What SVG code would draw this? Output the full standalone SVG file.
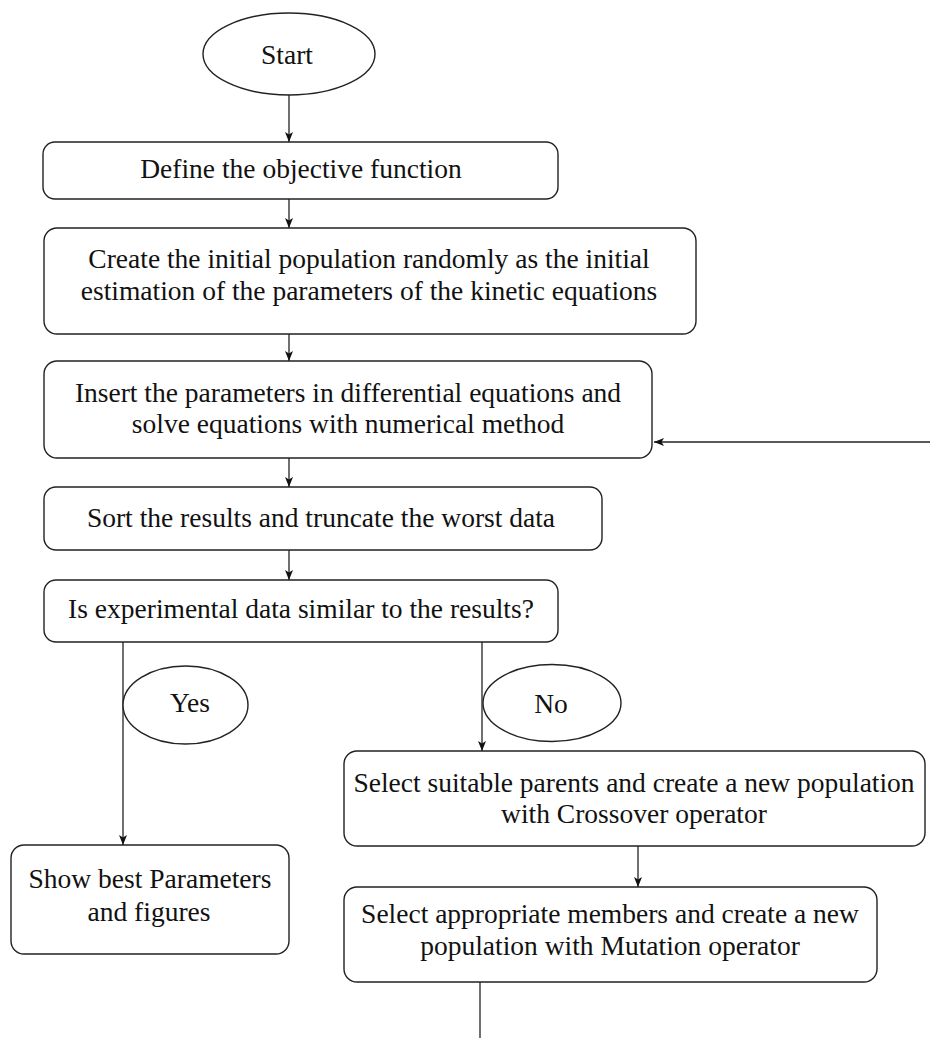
<svg xmlns="http://www.w3.org/2000/svg" width="930" height="1038" viewBox="0 0 930 1038">
<style>
.n{fill:#fff;stroke:#222;stroke-width:1.4}
.t{font-family:"Liberation Serif","Times New Roman",serif;font-size:27.5px;fill:#111;text-anchor:middle}
.c{fill:none;stroke:#222;stroke-width:1.3}
</style>
<defs>
<marker id="ah" viewBox="0 0 10 8" refX="10" refY="4" markerWidth="10" markerHeight="8" markerUnits="userSpaceOnUse" orient="auto">
<path d="M0,0 L10,4 L0,8 L2.5,4 Z" fill="#111"/>
</marker>
</defs>
<rect width="930" height="1038" fill="#fff"/>
<g id="connectors">
<line class="c" x1="289" y1="95" x2="289" y2="142" marker-end="url(#ah)"/>
<line class="c" x1="289" y1="199" x2="289" y2="228" marker-end="url(#ah)"/>
<line class="c" x1="289" y1="334" x2="289" y2="361" marker-end="url(#ah)"/>
<line class="c" x1="289" y1="458" x2="289" y2="487" marker-end="url(#ah)"/>
<line class="c" x1="289" y1="550" x2="289" y2="580" marker-end="url(#ah)"/>
<line class="c" x1="930" y1="442" x2="654" y2="442" marker-end="url(#ah)"/>
<line class="c" x1="123" y1="642" x2="123" y2="845" marker-end="url(#ah)"/>
<line class="c" x1="482" y1="642" x2="482" y2="751" marker-end="url(#ah)"/>
<line class="c" x1="638" y1="846" x2="638" y2="887" marker-end="url(#ah)"/>
<line class="c" x1="480" y1="982" x2="480" y2="1038"/>
</g>
<g id="start">
<ellipse class="n" cx="289" cy="54" rx="86" ry="41"/>
<text class="t" x="287" y="64">Start</text>
</g>
<g id="define">
<rect class="n" x="43" y="142" width="515" height="57" rx="12"/>
<text class="t" x="301" y="178">Define the objective function</text>
</g>
<g id="create">
<rect class="n" x="44" y="228" width="652" height="106" rx="13"/>
<text class="t" x="369" y="268">Create the initial population randomly as the initial</text>
<text class="t" x="369" y="300">estimation of the parameters of the kinetic equations</text>
</g>
<g id="insert">
<rect class="n" x="44" y="361" width="608" height="97" rx="13"/>
<text class="t" x="348" y="402">Insert the parameters in differential equations and</text>
<text class="t" x="348" y="433">solve equations with numerical method</text>
</g>
<g id="sort">
<rect class="n" x="44" y="487" width="558" height="63" rx="12"/>
<text class="t" x="321" y="527">Sort the results and truncate the worst data</text>
</g>
<g id="decision">
<rect class="n" x="44" y="580" width="514" height="62" rx="12"/>
<text class="t" x="301" y="618">Is experimental data similar to the results?</text>
</g>
<g id="yes">
<ellipse class="n" cx="185.5" cy="705" rx="62.5" ry="39"/>
<text class="t" x="190" y="712">Yes</text>
</g>
<g id="no">
<ellipse class="n" cx="552" cy="703" rx="69" ry="38.5"/>
<text class="t" x="551" y="713">No</text>
</g>
<g id="show">
<rect class="n" x="11" y="845" width="278" height="109" rx="13"/>
<text class="t" x="150" y="888">Show best Parameters</text>
<text class="t" x="149" y="921">and figures</text>
</g>
<g id="crossover">
<rect class="n" x="344" y="751" width="581" height="95" rx="13"/>
<text class="t" x="634" y="792">Select suitable parents and create a new population</text>
<text class="t" x="634" y="823">with Crossover operator</text>
</g>
<g id="mutation">
<rect class="n" x="344" y="887" width="533" height="95" rx="13"/>
<text class="t" x="610" y="923">Select appropriate members and create a new</text>
<text class="t" x="610" y="955">population with Mutation operator</text>
</g>
</svg>
